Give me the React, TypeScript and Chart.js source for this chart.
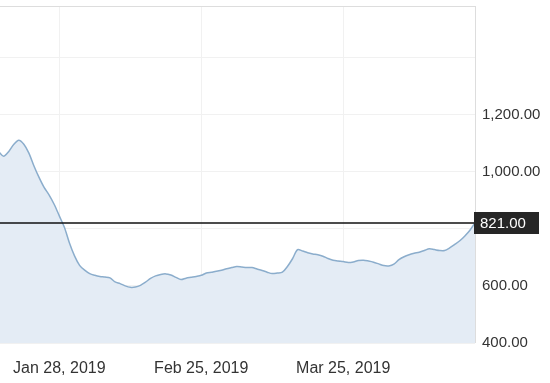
import React, { useEffect, useRef } from "react";
import { Chart, registerables } from "chart.js";

Chart.register(...registerables);

// days relative to Jan 28, 2019
const dayOffsets = [
  -12, -11, -10, -9, -8, -7, -6, -5, -4, -3, -2, -1, 0, 1, 2, 3, 4, 5, 6, 7, 8, 9,
  10, 11, 12, 13, 14, 15, 16, 17, 18, 19, 20, 21, 22, 23, 24, 25, 26, 27, 28, 29,
  30, 31, 32, 33, 34, 35, 36, 37, 38, 39, 40, 41, 42, 43, 44, 45, 46, 47, 48, 49,
  50, 51, 52, 53, 54, 55, 56, 57, 58, 59, 60, 61, 62, 63, 64, 65, 66, 67, 68, 69,
  70, 71, 72, 73, 74, 75, 76, 77, 78, 79, 80, 81, 82,
];
const prices = [
  1071, 1054, 1070, 1095, 1110, 1096, 1065, 1020, 980, 945, 918, 885, 845, 805, 750, 705, 672, 655, 643, 637, 633, 631,
  628, 614, 608, 600, 595, 596, 602, 613, 626, 635, 640, 642, 638, 630, 622, 627, 630, 633, 637, 645,
  648, 651, 655, 660, 664, 668, 666, 664, 664, 659, 654, 648, 643, 645, 648, 668, 695, 727, 722, 716,
  712, 709, 704, 696, 690, 687, 685, 682, 684, 689, 690, 687, 683, 677, 671, 670, 676, 692, 702, 709,
  714, 718, 724, 730, 727, 724, 724, 733, 745, 758, 775, 795, 821,
];
const tickDays = [0, 28, 56];
const tickLabels = ["Jan 28, 2019", "Feb 25, 2019", "Mar 25, 2019"];
const yTicks = [400, 600, 800, 1000, 1200, 1400];
const yLabelled = [400, 600, 1000, 1200];

const FONT = "'Liberation Sans', Arial, sans-serif";

export default function App() {
  const ref = useRef<HTMLCanvasElement>(null);
  useEffect(() => {
    document.body.style.margin = "0";
    const lastValue = prices[prices.length - 1];
    const overlay = {
      id: "overlay",
      beforeDatasetsDraw(chart: any) {
        const { ctx, chartArea } = chart;
        ctx.save();
        ctx.strokeStyle = "#dddddd";
        ctx.lineWidth = 1;
        ctx.beginPath();
        ctx.moveTo(chartArea.left, chartArea.top + 0.5);
        ctx.lineTo(chartArea.right, chartArea.top + 0.5);
        ctx.moveTo(chartArea.right + 0.5, chartArea.top);
        ctx.lineTo(chartArea.right + 0.5, chartArea.bottom);
        ctx.stroke();
        ctx.restore();
      },
      afterDraw(chart: any) {
        const { ctx, chartArea } = chart;
        const y = Math.round(chart.scales.y.getPixelForValue(lastValue));
        ctx.save();
        ctx.strokeStyle = "#111111";
        ctx.lineWidth = 1.5;
        ctx.beginPath();
        ctx.moveTo(chartArea.left, y);
        ctx.lineTo(chartArea.right, y);
        ctx.stroke();
        ctx.fillStyle = "#262626";
        ctx.fillRect(chartArea.right - 1, y - 11, 65, 22);
        ctx.fillStyle = "#ffffff";
        ctx.font = `15px ${FONT}`;
        ctx.textBaseline = "middle";
        ctx.textAlign = "left";
        ctx.fillText(lastValue.toFixed(2), chartArea.right + 5, y + 1);
        ctx.restore();
      },
    };
    const chart = new Chart(ref.current!, {
      type: "line",
      data: {
        datasets: [
          {
            data: dayOffsets.map((d, i) => ({ x: d, y: prices[i] })),
            borderColor: "#8badcc",
            borderWidth: 1.5,
            backgroundColor: "#e4ecf5",
            fill: "start",
            pointRadius: 0,
            tension: 0.3,
          },
        ],
      },
      options: {
        animation: false,
        responsive: false,
        layout: { padding: { top: 6, left: 0, right: 0, bottom: 0 } },
        plugins: { legend: { display: false }, tooltip: { enabled: false } },
        scales: {
          x: {
            type: "linear",
            min: -11.7,
            max: 82,
            afterBuildTicks(scale: any) {
              scale.ticks = tickDays.map((v) => ({ value: v }));
            },
            afterFit(scale: any) {
              scale.height = 40;
              scale.paddingLeft = 0;
              scale.paddingRight = 0;
            },
            grid: { color: "#f1f1f1", drawTicks: false },
            border: { display: false },
            ticks: {
              padding: 16,
              maxRotation: 0,
              autoSkip: false,
              color: "#333333",
              font: { family: FONT, size: 16 },
              callback: (v: any) => {
                const i = tickDays.indexOf(Number(v));
                return i >= 0 ? tickLabels[i] : "";
              },
            },
          },
          y: {
            position: "right",
            min: 400,
            max: 1580,
            afterBuildTicks(scale: any) {
              scale.ticks = yTicks.map((v) => ({ value: v }));
            },
            afterFit(scale: any) {
              scale.width = 75;
              scale.paddingTop = 0;
              scale.paddingBottom = 0;
            },
            grid: { color: "#f1f1f1", drawTicks: false },
            border: { display: false },
            ticks: {
              padding: 7,
              color: "#333333",
              font: { family: FONT, size: 15 },
              callback: (v: any) =>
                yLabelled.includes(Number(v))
                  ? Number(v).toLocaleString("en-US", { minimumFractionDigits: 2, maximumFractionDigits: 2 })
                  : "",
            },
          },
        },
      },
      plugins: [overlay],
    });
    return () => chart.destroy();
  }, []);
  return <canvas ref={ref} width={550} height={383} style={{ display: "block" }} />;
}
